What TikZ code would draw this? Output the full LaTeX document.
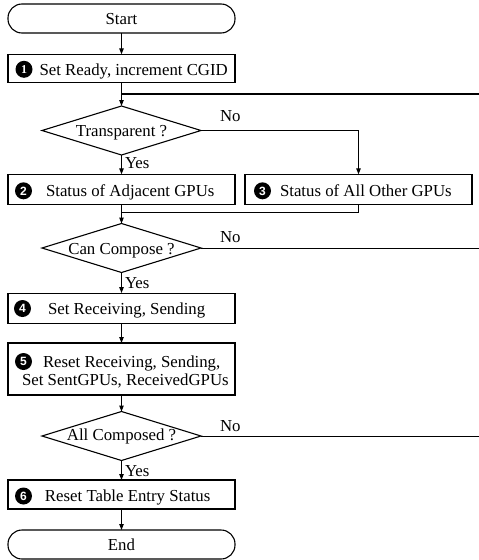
\documentclass[tikz,border=0pt]{standalone}
\usepackage{fontspec}
\setmainfont{Liberation Serif}
\newfontfamily\numfont{Liberation Sans}
\usetikzlibrary{shapes.geometric,arrows.meta}
\begin{document}
\begin{tikzpicture}[x=1pt,y=-1pt,
  every node/.style={inner sep=0pt,outer sep=0pt,
    font=\fontsize{16.8}{19}\selectfont,text height=11.5pt,text depth=0pt},
  boxshape/.style={draw,line width=1.1pt,rectangle,minimum width=227pt},
  term/.style={draw,line width=1.1pt,rectangle,rounded corners=14pt,
    minimum width=227pt,minimum height=29pt},
  decision/.style={draw,line width=1.1pt,diamond,minimum width=159pt,
    minimum height=49pt},
  numdot/.style={circle,fill=black,text=white,minimum size=17pt,
    text height=8.5pt,font=\numfont\bfseries\fontsize{12}{12}\selectfont},
  txt/.style={anchor=west},
  flow/.style={line width=1pt,-{Triangle[length=6pt,width=4.5pt]}},
  plain/.style={line width=1pt},
  loopline/.style={line width=2pt}
]
\useasboundingbox (0,0) rectangle (479,560);

% terminals
\node[term] (start) at (121.5,18.5) {Start};
\node[term] (end)   at (121.5,544.5) {End};

% process boxes
\node[boxshape,minimum height=28pt]   (b1) at (121.5,68.3) {};
\node[boxshape,minimum height=30pt]   (b2) at (121.5,189.3) {};
\node[boxshape,minimum height=30pt]   (b3) at (358.5,189.3) {};
\node[boxshape,minimum height=30.5pt] (b4) at (121.5,308.3) {};
\node[boxshape,minimum height=52pt]   (b5) at (121.5,369) {};
\node[boxshape,minimum height=29pt]   (b6) at (121.5,494.5) {};

% decisions
\node[decision] (d1) at (121.5,130.5) {};
\node[decision] (d2) at (121.5,248) {};
\node[decision] (d3) at (121.5,436) {};
\node (t1) at (121.5,130.7) {Transparent ?};
\node (t2) at (121.5,248.7) {Can Compose ?};
\node (t3) at (121.5,435) {All Composed ?};

% step numbers
\node[numdot,font=\bfseries\fontsize{12}{12}\selectfont] (n1) at (24,69.3) {1};
\node[numdot] (n2) at (23.5,190.8) {2};
\node[numdot] (n3) at (262.5,190.8) {3};
\node[numdot] (n4) at (22.5,308.5) {4};
\node[numdot] (n5) at (23.5,361.5) {5};
\node[numdot] (n6) at (23.5,496) {6};

% box texts
\node[txt] (l1) at (39.5,69.3) {Set Ready, increment CGID};
\node[txt] (l2) at (46,190.8) {Status of Adjacent GPUs};
\node[txt] (l3) at (280,190.8) {Status of All Other GPUs};
\node[txt] (l4) at (48,308.5) {Set Receiving, Sending};
\node[txt] (l5a) at (43,361.5) {Reset Receiving, Sending,};
\node[txt] (l5b) at (22,380.2) {Set SentGPUs, ReceivedGPUs};
\node[txt] (l6) at (45,496) {Reset Table Entry Status};

% branch labels
\node[txt] (no1) at (220,116) {No};
\node[txt] (no2) at (220,237) {No};
\node[txt] (no3) at (220,426) {No};
\node[txt] (yes1) at (125,162.5) {Yes};
\node[txt] (yes2) at (125,282.5) {Yes};
\node[txt] (yes3) at (125,470.3) {Yes};

% off-page ends and joins
\coordinate (ret) at (479,94);
\coordinate (out2) at (479,248);
\coordinate (out3) at (479,436);
\coordinate (join) at (121.5,212);

% connectors
\draw[flow] (start.south) -- (b1.north);
\draw[flow] (b1.south) -- (d1.north);
\draw[loopline] (ret) -- (b1.south |- ret);
\draw[flow] (d1.east) -| (b3.north);
\draw[flow] (d1.south) -- (b2.north);
\draw[flow] (b2.south) -- (d2.north);
\draw[plain] (b3.south) |- (join);
\draw[plain] (d2.east) -- (out2);
\draw[flow] (d2.south) -- (b4.north);
\draw[flow] (b4.south) -- (b5.north);
\draw[flow] (b5.south) -- (d3.north);
\draw[plain] (d3.east) -- (out3);
\draw[flow] (d3.south) -- (b6.north);
\draw[flow] (b6.south) -- (end.north);
\end{tikzpicture}
\end{document}
